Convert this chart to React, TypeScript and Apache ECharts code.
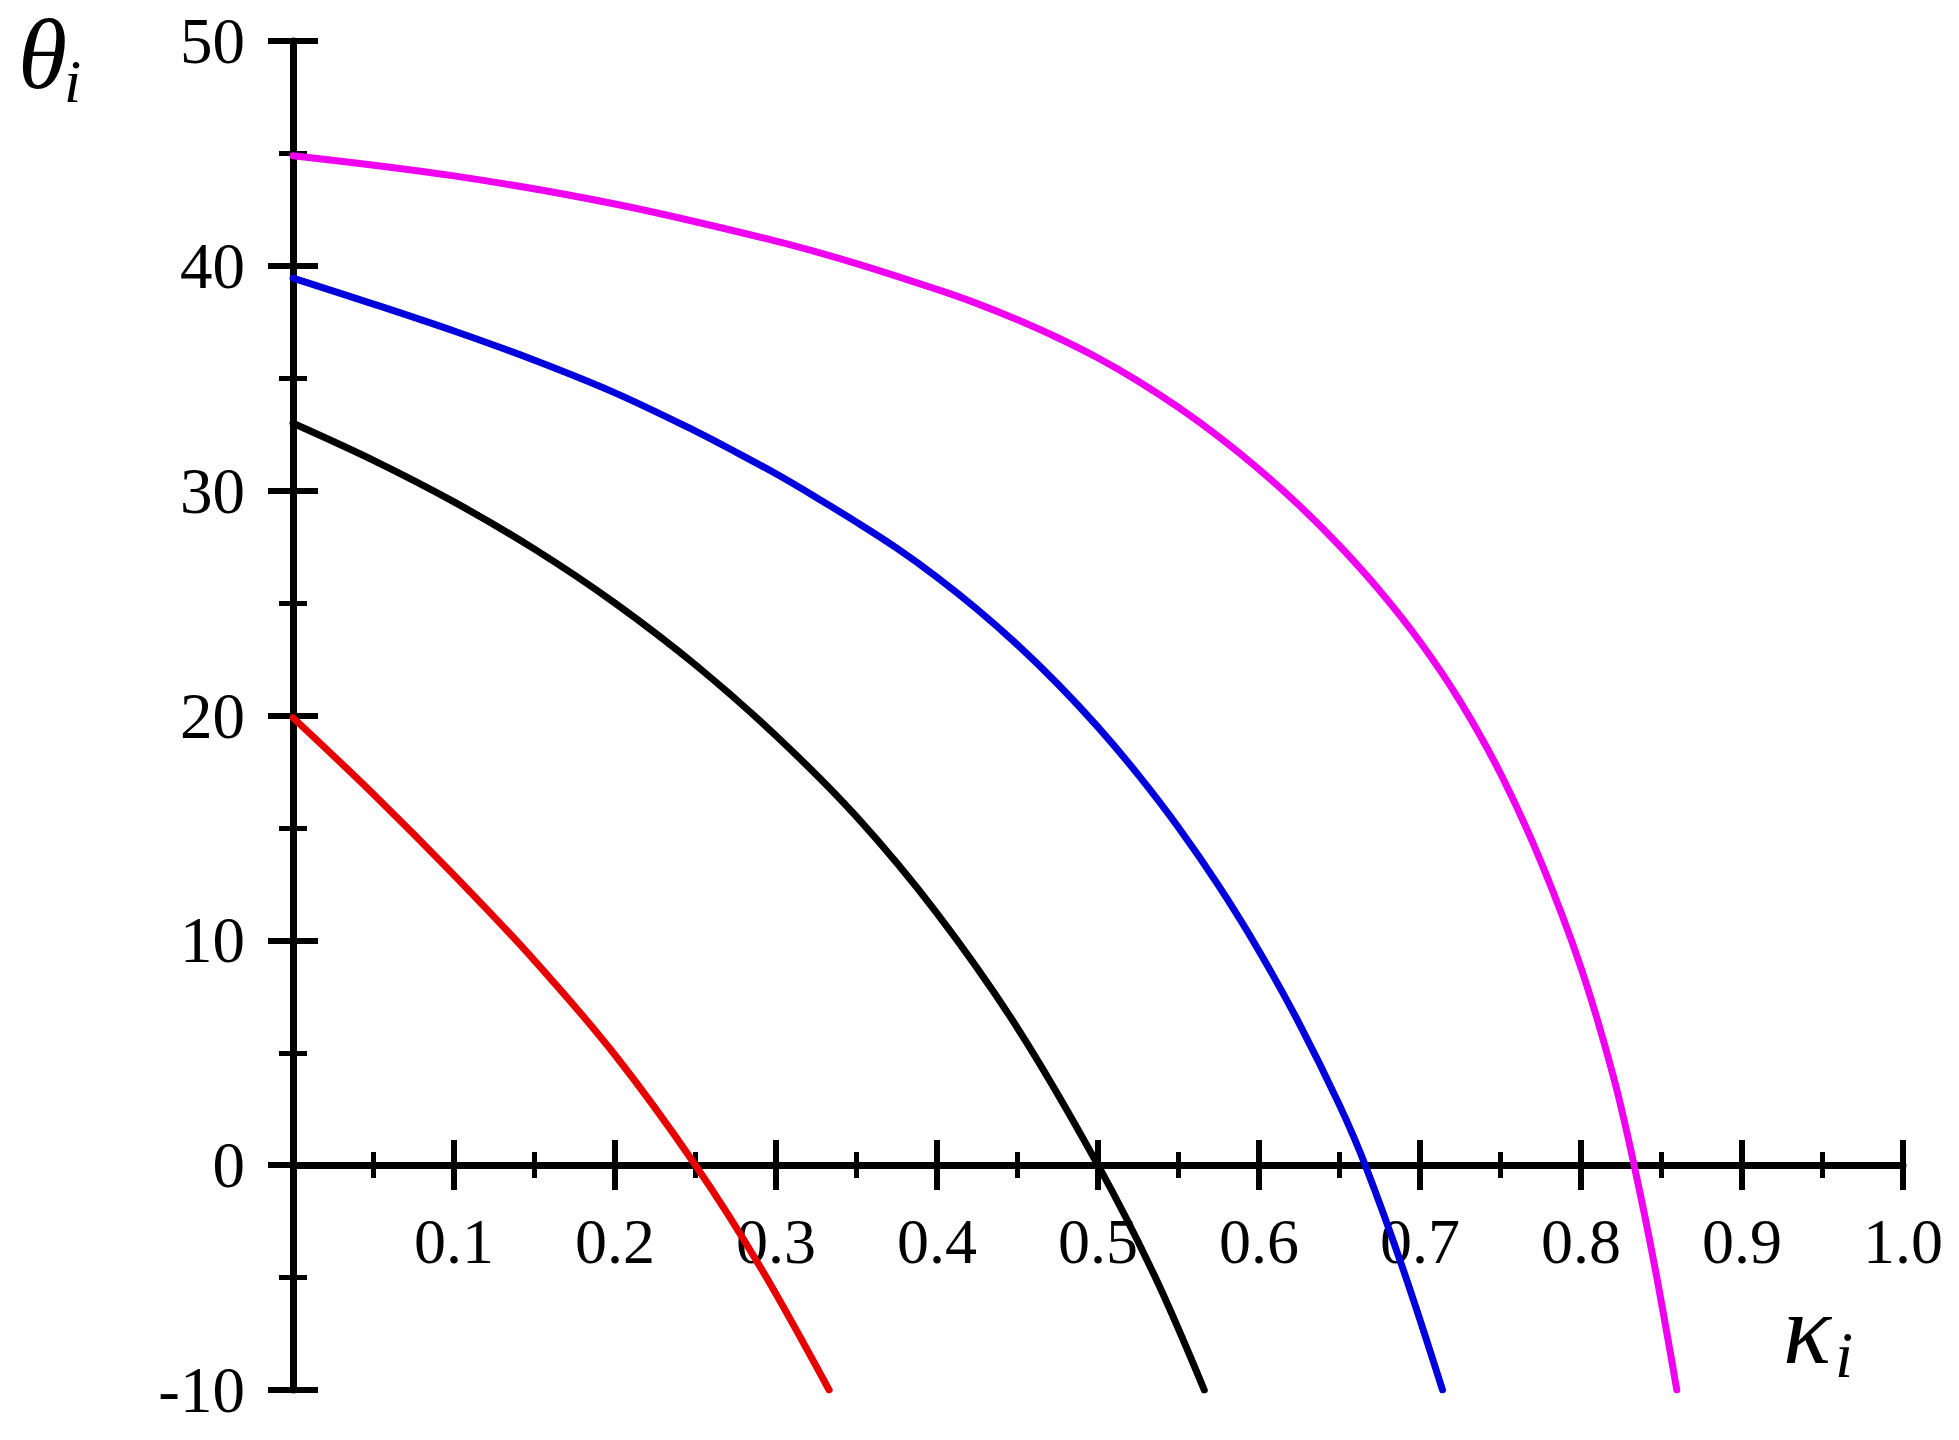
import React, { useEffect, useRef } from "react";
import * as echarts from "echarts";

// kappa_i values and theta_i values, per curve
const redKappa = [0, 0.05, 0.1, 0.15, 0.2, 0.25, 0.29, 0.333];
const redTheta = [19.9, 16.5, 12.9, 9.1, 4.9, 0, -4.5, -10];

const blackKappa = [0, 0.05, 0.1, 0.15, 0.2, 0.25, 0.3, 0.35, 0.4, 0.45, 0.5, 0.535, 0.566];
const blackTheta = [33.0, 31.35, 29.5, 27.4, 25.0, 22.25, 19.1, 15.5, 11.2, 6.1, 0, -4.9, -10];

const blueKappa = [0, 0.05, 0.1, 0.15, 0.2, 0.25, 0.275, 0.3, 0.325, 0.35, 0.375, 0.4, 0.425, 0.45, 0.475, 0.5, 0.525, 0.55, 0.575, 0.6, 0.625, 0.65, 0.666, 0.69, 0.714];
const blueTheta = [39.45, 38.3, 37.1, 35.8, 34.35, 32.65, 31.72, 30.75, 29.7, 28.6, 27.44, 26.15, 24.72, 23.14, 21.4, 19.48, 17.36, 15.02, 12.42, 9.53, 6.3, 2.67, 0, -4.73, -10];

const magentaKappa = [0, 0.1, 0.2, 0.3, 0.35, 0.4, 0.425, 0.45, 0.475, 0.5, 0.525, 0.55, 0.575, 0.6, 0.625, 0.65, 0.675, 0.7, 0.725, 0.75, 0.775, 0.8, 0.82, 0.833, 0.846, 0.8595];
const magentaTheta = [44.9, 44.0, 42.75, 41.1, 40.1, 38.95, 38.32, 37.6, 36.8, 35.9, 34.87, 33.7, 32.4, 30.95, 29.34, 27.55, 25.55, 23.28, 20.62, 17.42, 13.51, 8.78, 3.97, 0, -4.58, -10];

const xMin = 0, xMax = 1, xStep = 0.1;
const yMin = -10, yMax = 50, yStep = 10;

const zip = (xs: number[], ys: number[]) => xs.map((x, i) => [x, ys[i]]);

const SERIF = '"Liberation Serif", "Times New Roman", serif';

export default function App() {
  const ref = useRef<HTMLDivElement>(null);
  useEffect(() => {
    if (!ref.current) return;
    const chart = echarts.init(ref.current, undefined, { renderer: "svg" });
    const axisLineStyle = { color: "#000", width: 7 };
    const tick = (len: number) => ({ show: true, length: len, lineStyle: { color: "#000", width: 6 } });
    const minor = { show: true, splitNumber: 2, length: 13, lineStyle: { color: "#000", width: 5 } };
    const line = (name: string, xs: number[], ys: number[], color: string) => ({
      name,
      type: "line",
      xAxisIndex: 0,
      yAxisIndex: 0,
      data: zip(xs, ys),
      smooth: 0.35,
      showSymbol: false,
      symbol: "none",
      lineStyle: { color, width: 7, cap: "round" },
    });
    chart.setOption({
      animation: false,
      backgroundColor: "#fff",
      grid: { left: 293, top: 41, width: 1610, height: 1349, containLabel: false },
      xAxis: [
        {
          type: "value", min: xMin, max: xMax, interval: xStep, position: "bottom", offset: -225,
          axisLine: { show: true, onZero: false, lineStyle: axisLineStyle },
          axisTick: tick(25), minorTick: minor, splitLine: { show: false },
          axisLabel: {
            show: true, margin: 44, fontSize: 64, fontFamily: SERIF, color: "#000",
            formatter: (v: number) => (v === 0 ? "" : v.toFixed(1)),
          },
        },
        {
          type: "value", min: xMin, max: xMax, interval: xStep, position: "top", offset: -1124,
          axisLine: { show: false, onZero: false },
          axisTick: tick(25), minorTick: minor, splitLine: { show: false },
          axisLabel: { show: false },
        },
      ],
      yAxis: [
        {
          type: "value", min: yMin, max: yMax, interval: yStep, position: "left",
          axisLine: { show: true, onZero: false, lineStyle: axisLineStyle },
          axisTick: tick(25), minorTick: { ...minor, length: 14 }, splitLine: { show: false },
          axisLabel: {
            show: true, margin: 48, fontSize: 65, fontFamily: SERIF, color: "#000",
            padding: [19, 0, 0, 0],
          },
        },
        {
          type: "value", min: yMin, max: yMax, interval: yStep, position: "right", offset: -1610,
          axisLine: { show: false, onZero: false },
          axisTick: tick(25), minorTick: { ...minor, length: 14 }, splitLine: { show: false },
          axisLabel: { show: false },
        },
      ],
      series: [
        line("red", redKappa, redTheta, "#e60000"),
        line("black", blackKappa, blackTheta, "#000000"),
        line("blue", blueKappa, blueTheta, "#0000dc"),
        line("magenta", magentaKappa, magentaTheta, "#f000f0"),
      ],
      graphic: [
        { type: "text", x: 18, y: 54, style: { text: "θ", font: `italic 100px ${SERIF}`, fill: "#000", verticalAlign: "middle", align: "left" } },
        { type: "text", x: 64, y: 81, style: { text: "i", font: `italic 62px ${SERIF}`, fill: "#000", verticalAlign: "middle", align: "left" } },
        { type: "text", x: 1783, y: 1329, style: { text: "κ", font: `italic 100px ${SERIF}`, fill: "#000", verticalAlign: "middle", align: "left" } },
        { type: "text", x: 1835, y: 1355, style: { text: "i", font: `italic 65px ${SERIF}`, fill: "#000", verticalAlign: "middle", align: "left" } },
      ],
    });
    return () => chart.dispose();
  }, []);
  return (
    <div
      ref={ref}
      style={{ position: "fixed", left: 0, top: 0, width: 1959, height: 1440, background: "#fff" }}
    />
  );
}
